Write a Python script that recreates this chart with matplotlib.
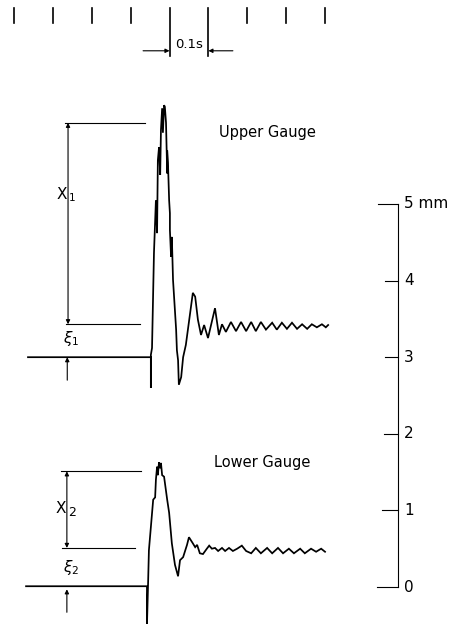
import numpy as np
import matplotlib
matplotlib.use('Agg')
import matplotlib.pyplot as plt

# time in s (origin at first timing mark), displacement in mm
upper_t = [0.036, 0.352, 0.352, 0.352, 0.355, 0.360, 0.365, 0.368, 0.370, 0.373,
           0.376, 0.378, 0.381, 0.383, 0.386, 0.388, 0.391, 0.394, 0.394, 0.396,
           0.399, 0.401, 0.401, 0.404, 0.406, 0.409, 0.417, 0.419, 0.422, 0.424,
           0.430, 0.435, 0.442, 0.460, 0.466, 0.473, 0.481, 0.489, 0.499, 0.517,
           0.527, 0.535, 0.545, 0.558, 0.571, 0.584, 0.597, 0.610, 0.622, 0.635,
           0.648, 0.664, 0.676, 0.689, 0.702, 0.715, 0.728, 0.741, 0.754, 0.766,
           0.779, 0.792, 0.802, 0.808]
upper_x = [3.00, 3.00, 2.60, 3.03, 3.12, 4.36, 5.05, 4.62, 5.57, 5.74,
           5.38, 5.97, 6.25, 5.93, 6.29, 6.27, 6.06, 5.40, 5.70, 5.54,
           5.05, 4.88, 4.66, 4.31, 4.57, 4.01, 3.36, 3.09, 2.96, 2.64,
           2.74, 3.00, 3.16, 3.84, 3.79, 3.49, 3.29, 3.42, 3.25, 3.64,
           3.29, 3.43, 3.33, 3.46, 3.34, 3.46, 3.34, 3.46, 3.34, 3.46,
           3.36, 3.45, 3.36, 3.45, 3.37, 3.45, 3.37, 3.43, 3.37, 3.43,
           3.39, 3.43, 3.39, 3.42]

lower_t = [0.031, 0.342, 0.342, 0.345, 0.347, 0.352, 0.358, 0.363, 0.365, 0.368,
           0.370, 0.373, 0.376, 0.378, 0.381, 0.386, 0.394, 0.399, 0.406, 0.414,
           0.422, 0.427, 0.435, 0.445, 0.450, 0.460, 0.466, 0.471, 0.478, 0.486,
           0.496, 0.502, 0.509, 0.517, 0.525, 0.535, 0.543, 0.553, 0.563, 0.574,
           0.586, 0.597, 0.610, 0.622, 0.635, 0.651, 0.664, 0.679, 0.692, 0.707,
           0.720, 0.736, 0.748, 0.764, 0.777, 0.790, 0.800]
lower_x = [0.01, 0.01, -0.50, 0.07, 0.48, 0.78, 1.14, 1.17, 1.40, 1.57,
           1.46, 1.63, 1.55, 1.62, 1.46, 1.44, 1.14, 0.97, 0.57, 0.29,
           0.14, 0.35, 0.39, 0.55, 0.65, 0.57, 0.52, 0.55, 0.44, 0.43,
           0.50, 0.54, 0.50, 0.51, 0.47, 0.51, 0.47, 0.51, 0.47, 0.50,
           0.54, 0.47, 0.44, 0.51, 0.44, 0.51, 0.44, 0.51, 0.44, 0.50,
           0.44, 0.50, 0.44, 0.50, 0.46, 0.50, 0.46]

# dimension levels
x1_top, xi1_top, base1 = 6.06, 3.43, 3.00
x2_top, xi2_top, base2 = 1.51, 0.51, 0.00

time_marks = [0.0, 0.1, 0.2, 0.3, 0.4, 0.5, 0.6, 0.7, 0.8]
scale_mm = [0, 1, 2, 3, 4, 5]
scale_labels = ['0', '1', '2', '3', '4', '5']
scale_tick_len = [0.054, 0.042, 0.036, 0.034, 0.034, 0.052]

fig = plt.figure(figsize=(4.54, 6.24), dpi=100)
ax = fig.add_axes([0, 0, 1, 1])
ax.set_xlim(-0.036, 1.1317)
ax.set_ylim(-0.483, 7.663)
ax.axis('off')

lw = 1.25
thin = 0.8
ax.plot(upper_t, upper_x, color='black', lw=lw, solid_joinstyle='miter')
ax.plot(lower_t, lower_x, color='black', lw=lw, solid_joinstyle='miter')

# timing marks at the top
for i, t in enumerate(time_marks):
    lo = 6.93 if i in (4, 5) else 7.36
    ax.plot([t, t], [lo, 7.56], color='black', lw=1.2)
ax.text(0.45, 7.08, '0.1s', ha='center', va='center', fontsize=9.5)
arr = dict(arrowstyle='-|>', lw=thin, color='black', mutation_scale=6, shrinkA=0, shrinkB=0)
ax.annotate('', xy=(0.4, 7.0), xytext=(0.332, 7.0), arrowprops=arr)
ax.annotate('', xy=(0.5, 7.0), xytext=(0.563, 7.0), arrowprops=arr)

# upper gauge dimensions
ax.plot([0.131, 0.337], [x1_top, x1_top], color='black', lw=thin)
ax.plot([0.134, 0.324], [xi1_top, xi1_top], color='black', lw=thin)
ax.annotate('', xy=(0.139, x1_top), xytext=(0.139, xi1_top),
            arrowprops=dict(arrowstyle='<|-|>', lw=thin, color='black', mutation_scale=6,
                            shrinkA=0, shrinkB=0))
ax.annotate('', xy=(0.137, base1), xytext=(0.137, base1 - 0.30), arrowprops=arr)
ax.text(0.137, 5.12, 'X', ha='right', va='center', fontsize=11)
ax.text(0.141, 5.08, '1', ha='left', va='center', fontsize=7.5)
ax.text(0.147, 3.25, r'$\xi_1$', ha='center', va='center', fontsize=11)

# lower gauge dimensions
ax.plot([0.121, 0.327], [x2_top, x2_top], color='black', lw=thin)
ax.plot([0.123, 0.311], [xi2_top, xi2_top], color='black', lw=thin)
ax.annotate('', xy=(0.136, x2_top), xytext=(0.136, xi2_top),
            arrowprops=dict(arrowstyle='<|-|>', lw=thin, color='black', mutation_scale=6,
                            shrinkA=0, shrinkB=0))
ax.annotate('', xy=(0.136, base2 - 0.03), xytext=(0.136, base2 - 0.33), arrowprops=arr)
ax.text(0.134, 1.03, 'X', ha='right', va='center', fontsize=11)
ax.text(0.138, 0.97, '2', ha='left', va='center', fontsize=9)
ax.text(0.147, 0.25, r'$\xi_2$', ha='center', va='center', fontsize=11)

ax.text(0.653, 5.93, 'Upper Gauge', ha='center', va='center', fontsize=10.5)
ax.text(0.638, 1.63, 'Lower Gauge', ha='center', va='center', fontsize=10.5)

# mm scale on the right
sx = 0.988
ax.plot([sx, sx], [0, 5], color='black', lw=thin)
for v, lab, tl in zip(scale_mm, scale_labels, scale_tick_len):
    ax.plot([sx - tl, sx], [v, v], color='black', lw=thin)
    txt = lab + ' mm' if v == 5 else lab
    ax.text(sx + 0.015, v, txt, ha='left', va='center', fontsize=11)

fig.savefig('out.png', dpi=100, facecolor='white')
